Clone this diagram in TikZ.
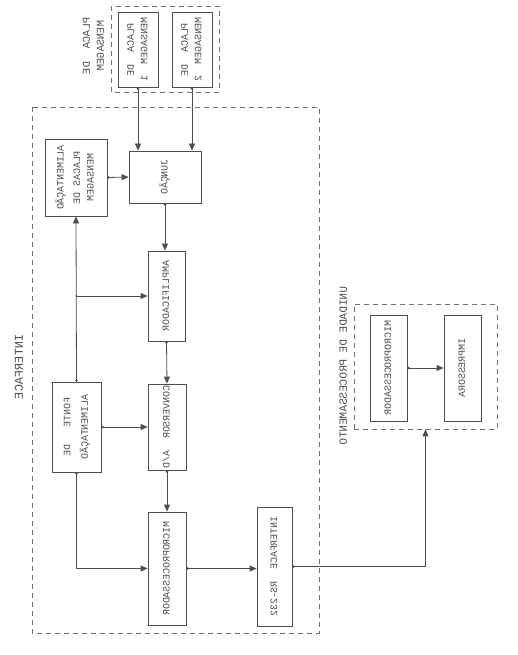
\documentclass[tikz,border=0pt]{standalone}
\usepackage{fontspec}
\usepackage{graphicx}
\setmonofont{Liberation Mono}
\usetikzlibrary{arrows.meta}
\newcommand{\mirtext}[1]{\reflectbox{\rotatebox{-90}{\begin{tabular}{@{}c@{}}#1\end{tabular}}}}
\definecolor{ink}{HTML}{4E4E4E}
\tikzset{
  box/.style={draw=ink, line width=0.8pt, rectangle, inner sep=0pt, text=ink,
    font=\ttfamily\fontsize{9.8}{13.5}\selectfont},
  grp/.style={draw=ink!80, line width=0.6pt, dash pattern=on 5pt off 4pt},
  lbl/.style={text=ink, inner sep=0pt, font=\ttfamily\fontsize{10.5}{14}\selectfont},
  conn/.style={draw=ink, line width=0.8pt, {Circle[length=2.4pt]}-{Triangle[length=7pt,width=6pt]}},
}
\begin{document}
\begin{tikzpicture}[x=1pt,y=-1pt]
\useasboundingbox[fill=white] (0,0) rectangle (517,655);
% group frames
\draw[grp] (111,6) rectangle (219,92);
\draw[grp] (32,107) rectangle (319,633);
\node[grp, rectangle, minimum width=143pt, minimum height=125pt] (unid) at (425.5,366.5) {};
% boxes
\node[box, minimum width=40pt, minimum height=75pt] (pm1) at (138,49.5) {\mirtext{PLACA~~DE\\MENSAGEM~~1}};
\node[box, minimum width=40pt, minimum height=75pt] (pm2) at (192,49.5) {\mirtext{PLACA~~DE\\MENSAGEM~~2}};
\node[box, minimum width=72pt, minimum height=52pt] (junc) at (165,177) {\mirtext{JUNÇÃO}};
\node[box, minimum width=62pt, minimum height=77pt] (alim) at (76,177.5) {\mirtext{ALIMENTAÇÃO\\[3pt]PLACAS~DE\\MENSAGEM}};
\node[box, minimum width=37pt, minimum height=90pt] (amp) at (166.5,296) {\mirtext{AMPLIFICADOR}};
\node[box, minimum width=38pt, minimum height=86pt] (conv) at (167,427) {\mirtext{CONVERSOR~~A/D}};
\node[box, minimum width=38pt, minimum height=113pt] (micro) at (167,568.5) {\mirtext{MICROPROCESSADOR}};
\node[box, minimum width=49pt, minimum height=90pt] (fonte) at (76.5,427) {\mirtext{FONTE~~~DE\\[4pt]ALIMENTAÇÃO}};
\node[box, minimum width=35pt, minimum height=119pt] (rs) at (274.5,566.5) {\mirtext{INTERFACE~~RS-232}};
\node[box, minimum width=37pt, minimum height=106pt] (micro2) at (388.5,368) {\mirtext{MICROPROCESSADOR}};
\node[box, minimum width=37pt, minimum height=106pt] (impr) at (462.5,368) {\mirtext{IMPRESSORA}};
% labels
\node[lbl] (lplaca) at (94,46) {\mirtext{PLACA~~DE\\MENSAGEM}};
\node[lbl, font=\ttfamily\fontsize{12}{14}\selectfont] (linter) at (20,367) {\mirtext{INTERFACE}};
\node[lbl, font=\ttfamily\fontsize{11}{14}\selectfont] (lunid) at (344,366) {\mirtext{UNIDADE~DE~PROCESSAMENTO}};
% connectors
\draw[conn] (pm1.south) -- (pm1.south |- junc.north);
\draw[conn] (pm2.south) -- (pm2.south |- junc.north);
\draw[conn] (alim.east) -- (junc.west);
\draw[conn] (junc.south) -- (junc.south |- amp.north);
\draw[conn] (fonte.north) -- (alim.south);
\coordinate (br) at (fonte.north |- amp.west);
\fill[ink] (br) circle (1.2pt);
\draw[draw=ink, line width=0.8pt, -{Triangle[length=7pt,width=6pt]}] (br) -- (amp.west);
\draw[conn] (fonte.east) -- (conv.west);
\draw[conn] (amp.south) -- (conv.north);
\draw[conn] (conv.south) -- (micro.north);
\draw[conn] (fonte.south) |- (micro.west);
\draw[conn] (micro.east) -- (micro.east -| rs.west);
\draw[conn] (rs.east) -| (unid.south);
\draw[conn] (micro2.east) -- (impr.west);
\end{tikzpicture}
\end{document}
